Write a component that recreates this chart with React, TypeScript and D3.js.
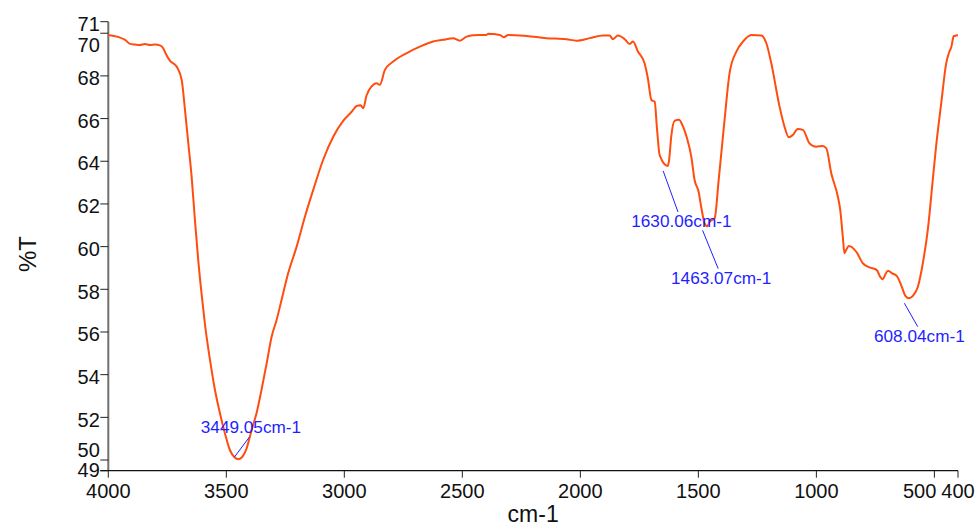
import React, { useEffect, useRef } from "react";
import * as d3 from "d3";

// FTIR spectrum
const wavenumbers = [
  4000, 3959, 3929, 3908, 3887, 3866, 3845, 3823, 3802, 3781, 3768, 3756, 3739, 3710, 3689, 3675,
  3661, 3647, 3633, 3619, 3605, 3591, 3569, 3548, 3527, 3506, 3485, 3464, 3449, 3435, 3414, 3393,
  3372, 3351, 3329, 3308, 3287, 3266, 3238, 3202, 3167, 3132, 3090, 3047, 3005, 2969, 2948, 2931,
  2920, 2906, 2885, 2864, 2850, 2828, 2793, 2737, 2680, 2624, 2582, 2539, 2511, 2482, 2455, 2398,
  2391, 2341, 2325, 2306, 2228, 2144, 2059, 2017, 1960, 1904, 1876, 1862, 1841, 1812, 1791, 1777,
  1756, 1728, 1714, 1699, 1685, 1676, 1664, 1630, 1624, 1615, 1601, 1582, 1565, 1548, 1530, 1516,
  1499, 1487, 1474, 1463, 1452, 1431, 1414, 1389, 1368, 1339, 1311, 1276, 1233, 1212, 1191, 1156,
  1135, 1117, 1100, 1079, 1057, 1029, 1001, 973, 958, 937, 909, 899, 888, 881, 874, 863,
  831, 803, 775, 744, 730, 719, 707, 697, 679, 659, 641, 622, 608, 592, 570, 549,
  528, 507, 493, 471, 450, 439, 428, 418, 408, 400,
];

const transmittance = [
  69.92, 69.83, 69.69, 69.5, 69.47, 69.45, 69.5, 69.45, 69.47, 69.43, 69.31, 69.03, 68.72, 68.43, 67.81, 66.4,
  64.84, 63.28, 61.25, 59.37, 57.81, 56.41, 54.68, 53.28, 52.19, 51.25, 50.47, 50.12, 50.04, 50.12, 50.55, 51.4,
  52.19, 53.28, 54.53, 55.78, 56.56, 57.5, 58.75, 60.0, 61.4, 62.65, 64.06, 65.15, 65.89, 66.32, 66.59, 66.62,
  66.48, 67.08, 67.5, 67.66, 67.58, 68.28, 68.67, 69.06, 69.37, 69.61, 69.69, 69.77, 69.65, 69.84, 69.91, 69.92,
  69.97, 69.92, 69.81, 69.92, 69.87, 69.77, 69.72, 69.65, 69.77, 69.89, 69.89, 69.72, 69.89, 69.72, 69.5, 69.61,
  69.14, 68.59, 67.89, 66.87, 66.79, 65.62, 64.29, 63.78, 64.06, 65.15, 65.89, 65.94, 65.62, 65.08, 64.22, 63.12,
  62.57, 61.8, 61.1, 60.95, 61.17, 61.33, 63.12, 65.94, 68.12, 69.14, 69.61, 69.92, 69.89, 69.53, 68.59, 66.56,
  65.62, 65.12, 65.23, 65.51, 65.47, 64.84, 64.68, 64.72, 64.61, 63.44, 62.34, 61.72, 60.46, 59.69, 59.84, 60.03,
  59.76, 59.22, 59.03, 58.9, 58.59, 58.47, 58.72, 58.87, 58.75, 58.62, 58.2, 57.68, 57.58, 57.68, 58.12, 59.22,
  60.78, 63.12, 64.68, 66.72, 68.59, 69.06, 69.37, 69.87, 69.89, 69.9,
];

const xTickValues = [4000, 3500, 3000, 2500, 2000, 1500, 1000, 500, 400];
const yTickValues = [70, 68, 66, 64, 62, 60, 58, 56, 54, 52, 50];
const yDomain = [49.5, 70.54];
const yEndLabels = ["49", "71"];

const peakWavenumbers = [3449.05, 1630.06, 1463.07, 608.04];
const peakLabels = ["3449.05cm-1", "1630.06cm-1", "1463.07cm-1", "608.04cm-1"];

// label placement relative to the peak point (pixels)
const peakLayout = [
  { sx: -4, sy: -2, ex: 11, ey: -22, tx: 12.6, ty: -25.7 },
  { sx: -4.5, sy: 5, ex: 10.3, ey: 46, tx: 13.7, ty: 60.7 },
  { sx: -4.5, sy: 4, ex: 11.1, ey: 42.3, tx: 14.1, ty: 57.3 },
  { sx: -4.5, sy: 5, ex: 8.8, ey: 28.4, tx: 10.5, ty: 43.4 },
];

const W = 976;
const H = 527;
const left = 108.3;
const right = 958;
const top = 21.7;
const bottom = 470.7;
const font = "'Liberation Sans', Arial, sans-serif";

function valueAt(wn: number) {
  for (let i = 1; i < wavenumbers.length; i++) {
    if (wavenumbers[i] <= wn) {
      const t = (wn - wavenumbers[i]) / (wavenumbers[i - 1] - wavenumbers[i]);
      return transmittance[i] + t * (transmittance[i - 1] - transmittance[i]);
    }
  }
  return transmittance[transmittance.length - 1];
}

export default function App() {
  const ref = useRef<SVGSVGElement>(null);

  useEffect(() => {
    const svg = d3.select(ref.current);
    svg.selectAll("*").remove();

    const x = d3.scaleLinear().domain([4000, 400]).range([left, right]);
    const y = d3.scaleLinear().domain(yDomain).range([bottom, top]);

    // y axis
    const gy = svg.append("g");
    gy.append("line")
      .attr("x1", left).attr("x2", left)
      .attr("y1", top).attr("y2", bottom)
      .attr("stroke", "#707070").attr("stroke-width", 2);

    const yTicks = [
      { v: yDomain[1], label: yEndLabels[1] },
      ...yTickValues.map((v) => ({ v, label: String(v) })),
      { v: yDomain[0], label: yEndLabels[0] },
    ];
    const topLabelY = y(yDomain[1]) + 2;
    const bottomLabelY = y(yDomain[0]) - 0.5;
    yTicks.forEach((t) => {
      const ty = y(t.v);
      gy.append("line")
        .attr("x1", left - 8).attr("x2", left)
        .attr("y1", ty).attr("y2", ty)
        .attr("stroke", "#222").attr("stroke-width", 1);
      let cy = ty + 2;
      if (t.v === yDomain[0]) cy = bottomLabelY;
      if (t.v !== yDomain[1] && cy - topLabelY < 21 && cy > topLabelY) cy = topLabelY + 21;
      if (t.v !== yDomain[0] && bottomLabelY - cy < 20 && cy < bottomLabelY) cy = bottomLabelY - 20;
      gy.append("text")
        .attr("x", left - 8.5)
        .attr("y", cy + 7.2)
        .attr("text-anchor", "end")
        .attr("font-family", font)
        .attr("font-size", 20)
        .attr("fill", "#111")
        .text(t.label);
    });

    // x axis
    const gx = svg.append("g");
    gx.append("line")
      .attr("x1", left - 8).attr("x2", right)
      .attr("y1", bottom).attr("y2", bottom)
      .attr("stroke", "#111").attr("stroke-width", 1.2);
    const endX = x(400);
    const endHalf = (3 * 0.556 * 20) / 2;
    xTickValues.forEach((v) => {
      const tx = x(v);
      gx.append("line")
        .attr("x1", tx).attr("x2", tx)
        .attr("y1", bottom).attr("y2", bottom + 7)
        .attr("stroke", "#222").attr("stroke-width", 1);
      const label = String(v);
      const half = (label.length * 0.556 * 20) / 2;
      let cx = tx;
      if (v !== 400 && cx + half > endX - endHalf - 5) cx = endX - endHalf - 5 - half;
      gx.append("text")
        .attr("x", cx)
        .attr("y", bottom + 27.5)
        .attr("text-anchor", "middle")
        .attr("font-family", font)
        .attr("font-size", 20)
        .attr("fill", "#111")
        .text(label);
    });

    // axis titles
    svg.append("text")
      .attr("x", (left + right) / 2)
      .attr("y", 522)
      .attr("text-anchor", "middle")
      .attr("font-family", font)
      .attr("font-size", 23)
      .attr("fill", "#111")
      .text("cm-1");
    svg.append("text")
      .attr("transform", "translate(36,254) rotate(-90)")
      .attr("text-anchor", "middle")
      .attr("font-family", font)
      .attr("font-size", 24)
      .attr("fill", "#111")
      .text("%T");

    // spectrum
    const pts = wavenumbers.map((w, i) => [w, transmittance[i]] as [number, number]);
    const line = d3.line<[number, number]>()
      .x((d) => x(d[0]))
      .y((d) => y(d[1]))
      .curve(d3.curveMonotoneX);
    svg.append("path")
      .datum(pts)
      .attr("fill", "none")
      .attr("stroke", "#ff4d0f")
      .attr("stroke-width", 2)
      .attr("stroke-linejoin", "round")
      .attr("d", line);

    // peak annotations
    peakWavenumbers.forEach((wn, i) => {
      const px = x(wn);
      const py = y(valueAt(wn));
      const o = peakLayout[i];
      svg.append("line")
        .attr("x1", px + o.sx).attr("y1", py + o.sy)
        .attr("x2", px + o.ex).attr("y2", py + o.ey)
        .attr("stroke", "#1f1fff").attr("stroke-width", 1);
      svg.append("text")
        .attr("x", px + o.tx)
        .attr("y", py + o.ty)
        .attr("text-anchor", "middle")
        .attr("font-family", font)
        .attr("font-size", 17.2)
        .attr("fill", "#1f1fff")
        .text(peakLabels[i]);
    });
  }, []);

  return (
    <svg
      ref={ref}
      width={W}
      height={H}
      style={{ position: "fixed", left: 0, top: 0, background: "#fff" }}
    />
  );
}
